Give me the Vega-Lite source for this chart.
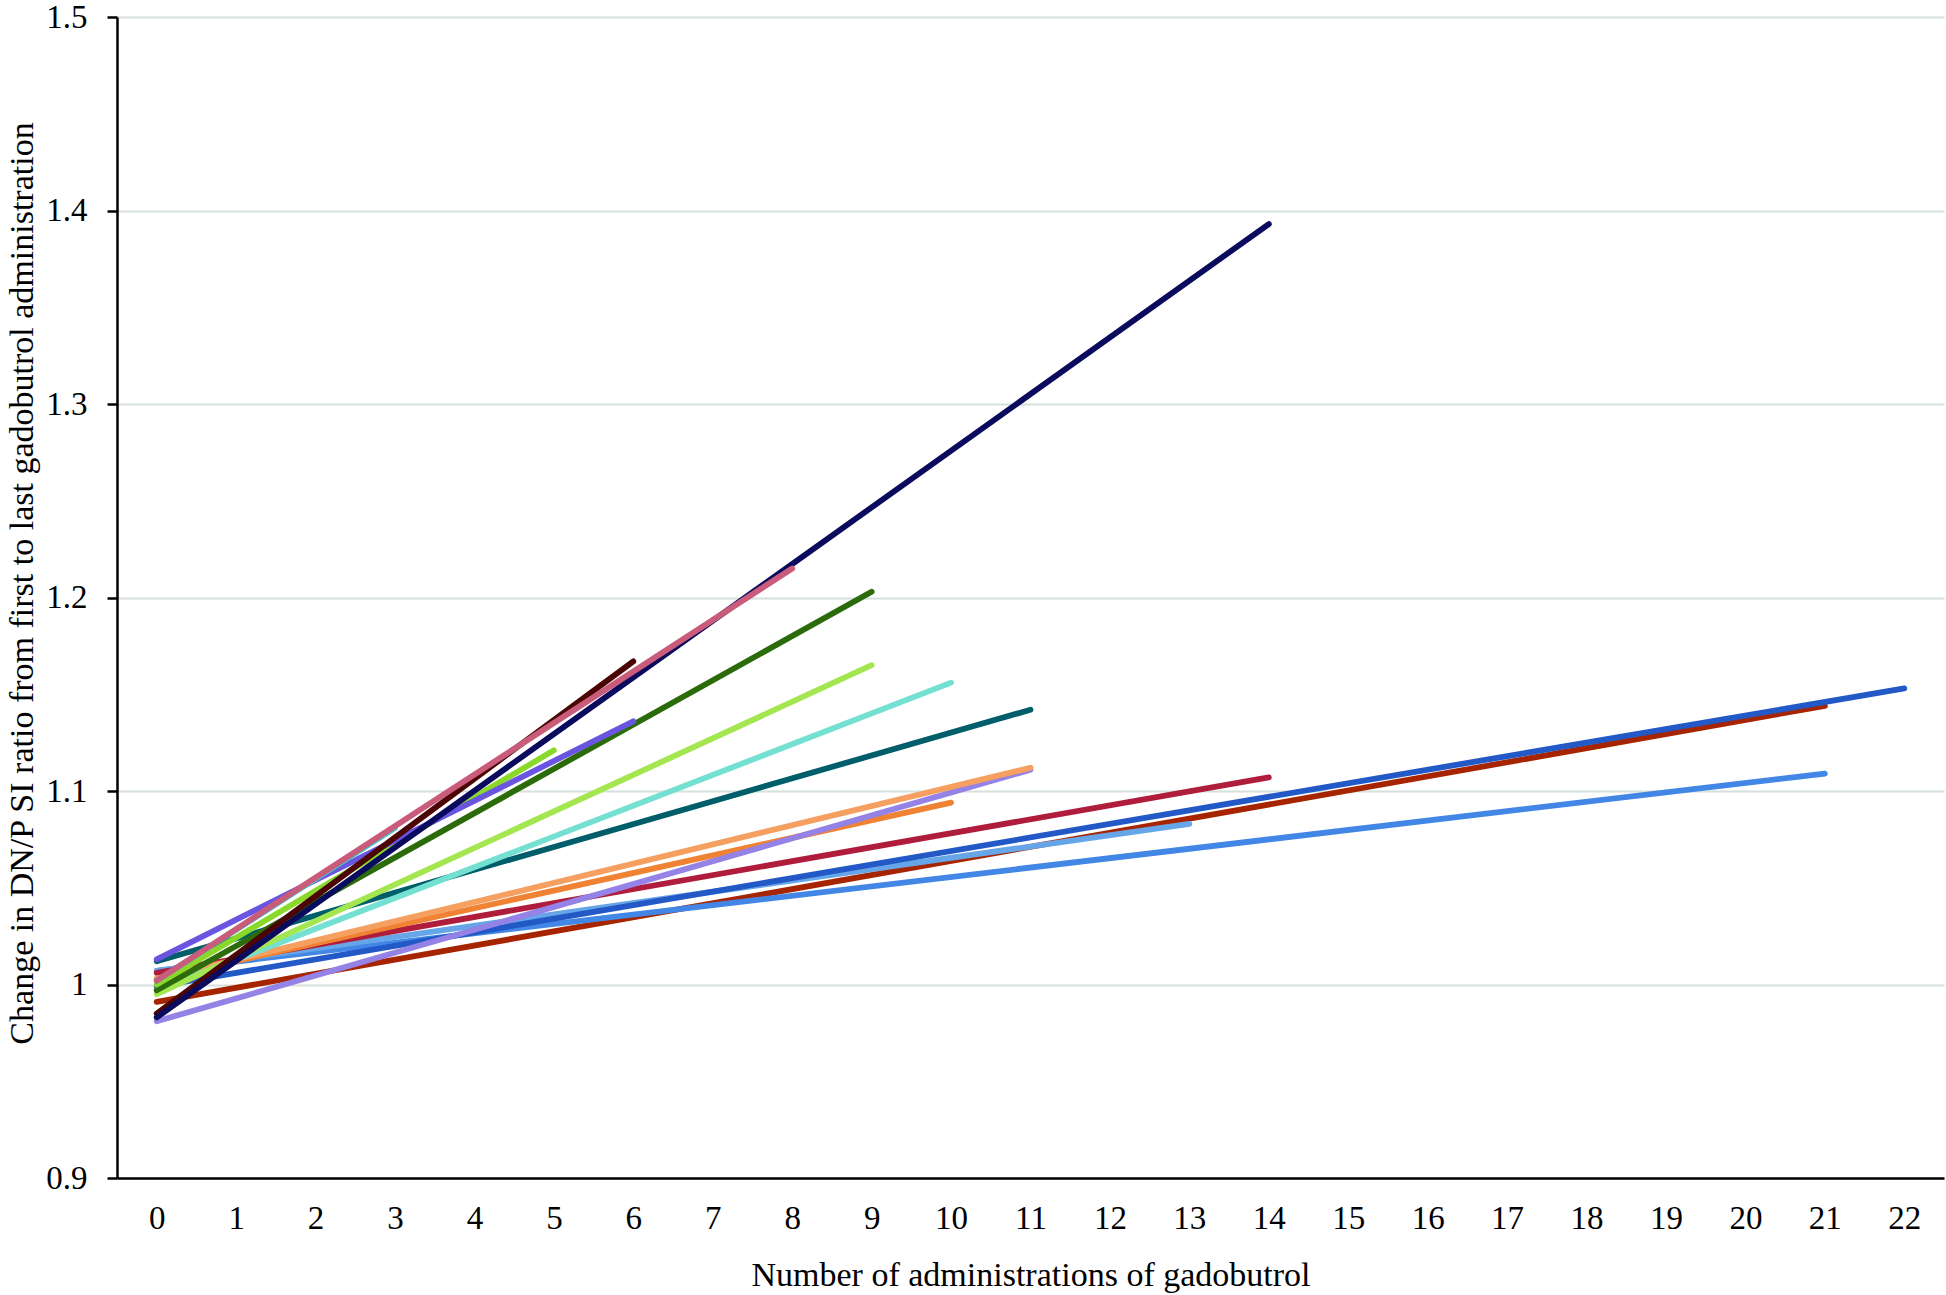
{
  "$schema": "https://vega.github.io/schema/vega-lite/v6.json",
  "autosize": "none",
  "width": 1827,
  "height": 1161,
  "padding": {"left": 117, "top": 17, "right": 2, "bottom": 117},
  "background": "white",
  "config": {
    "view": {"stroke": null},
    "font": "Liberation Serif"
  },
  "data": {
    "values": [
      {"s": "A", "x": 0, "y": 0.991}, {"s": "A", "x": 21, "y": 1.144},
      {"s": "B", "x": 0, "y": 1.007}, {"s": "B", "x": 21, "y": 1.109},
      {"s": "C", "x": 0, "y": 1.007}, {"s": "C", "x": 13, "y": 1.083},
      {"s": "D", "x": 0, "y": 0.999}, {"s": "D", "x": 22, "y": 1.153},
      {"s": "E", "x": 0, "y": 1.006}, {"s": "E", "x": 14, "y": 1.107},
      {"s": "F", "x": 0, "y": 1.003}, {"s": "F", "x": 10, "y": 1.094},
      {"s": "G", "x": 0, "y": 0.981}, {"s": "G", "x": 11, "y": 1.111},
      {"s": "H", "x": 0, "y": 1.003}, {"s": "H", "x": 11, "y": 1.112},
      {"s": "I", "x": 0, "y": 1.012}, {"s": "I", "x": 11, "y": 1.142},
      {"s": "J", "x": 0, "y": 0.997}, {"s": "J", "x": 10, "y": 1.156},
      {"s": "K", "x": 0, "y": 0.995}, {"s": "K", "x": 9, "y": 1.165},
      {"s": "L", "x": 0, "y": 0.997}, {"s": "L", "x": 9, "y": 1.203},
      {"s": "M", "x": 0, "y": 1.000}, {"s": "M", "x": 5, "y": 1.121},
      {"s": "N", "x": 0, "y": 1.013}, {"s": "N", "x": 6, "y": 1.136},
      {"s": "O", "x": 0, "y": 1.002}, {"s": "O", "x": 3, "y": 1.081},
      {"s": "P", "x": 0, "y": 0.985}, {"s": "P", "x": 6, "y": 1.167},
      {"s": "Q", "x": 0, "y": 0.983}, {"s": "Q", "x": 14, "y": 1.393},
      {"s": "R", "x": 0, "y": 1.002}, {"s": "R", "x": 8, "y": 1.215}
    ]
  },
  "mark": {"type": "line", "strokeWidth": 5.8, "strokeCap": "round", "strokeJoin": "round", "clip": false},
  "encoding": {
    "x": {
      "field": "x", "type": "quantitative",
      "scale": {"domain": [-0.5, 22.5], "nice": false, "zero": false},
      "axis": {
        "values": [0,1,2,3,4,5,6,7,8,9,10,11,12,13,14,15,16,17,18,19,20,21,22],
        "title": "Number of administrations of gadobutrol",
        "grid": false, "ticks": false,
        "domainColor": "black", "domainWidth": 2.5,
        "labelFont": "Liberation Serif", "labelFontSize": 33, "labelColor": "black",
        "labelPadding": 24, "labelBaseline": "top", "labelFlush": false, "labelOverlap": false,
        "titleFont": "Liberation Serif", "titleFontSize": 34, "titleFontWeight": "normal", "titleColor": "black",
        "titleBaseline": "middle", "titleY": 97
      }
    },
    "y": {
      "field": "y", "type": "quantitative",
      "scale": {"domain": [0.9, 1.5], "nice": false, "zero": false},
      "axis": {
        "values": [0.9, 1.0, 1.1, 1.2, 1.3, 1.4, 1.5],
        "format": ".1~f",
        "title": "Change in DN/P SI ratio from first to last gadobutrol administration",
        "grid": true, "gridColor": "#d6e0dc", "gridWidth": 2,
        "ticks": true, "tickSize": 10, "tickColor": "black", "tickWidth": 2.5,
        "domainColor": "black", "domainWidth": 2.5,
        "labelFont": "Liberation Serif", "labelFontSize": 33, "labelColor": "black",
        "labelPadding": 20, "labelFlush": false, "labelOverlap": false,
        "titleFont": "Liberation Serif", "titleFontSize": 34, "titleFontWeight": "normal", "titleColor": "black",
        "titleBaseline": "middle", "titleX": -95, "titleY": 566
      }
    },
    "color": {
      "field": "s", "type": "nominal", "legend": null,
      "scale": {
        "domain": ["A","B","C","D","E","F","G","H","I","J","K","L","M","N","O","P","Q","R"],
        "range": ["#a62500","#4286e6","#66a6e8","#2259c6","#b01c3c","#f08233","#9482e6","#f5a060","#005e6b","#74e0d2","#a3e64f","#2b6b0a","#8ad92a","#6a55e0","#45c4c8","#4b0505","#0b0b5e","#c95b7b"]
      }
    }
  }
}
